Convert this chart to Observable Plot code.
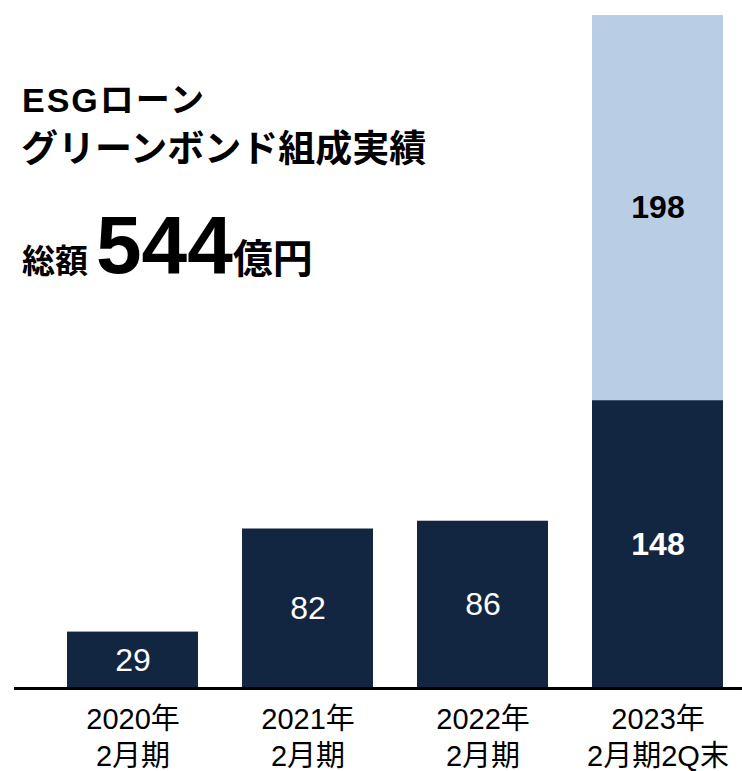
<!DOCTYPE html>
<html>
<head>
<meta charset="utf-8">
<script src="https://cdn.jsdelivr.net/npm/d3@7"></script>
<script src="https://cdn.jsdelivr.net/npm/@observablehq/plot@0.6"></script>
<style>
  body { margin: 0; background: #fff; }
  #chart { width: 742px; height: 771px; }
</style>
</head>
<body>
<div id="chart"></div>
<script>
// ---- data ----
const periods = ["2020年\n2月期", "2021年\n2月期", "2022年\n2月期", "2023年\n2月期2Q末"];
const loanValues = [29, 82, 86, 148];          // dark segment
const bondValues = [null, null, null, 198];    // light segment (2023 only)
const seriesNames = ["dark", "light"];
const titleLine1 = "ESGローン";
const titleLine2 = "グリーンボンド組成実績";
const totalPrefix = "総額";
const totalValue = "544";
const totalUnit = "億円";

const rows = [];
periods.forEach((p, i) => {
  rows.push({period: p, series: seriesNames[0], value: loanValues[i], idx: i});
  if (bondValues[i] != null) rows.push({period: p, series: seriesNames[1], value: bondValues[i], idx: i});
});
const maxTotal = d3.max(periods.map((p, i) => loanValues[i] + (bondValues[i] || 0)));
const lastIdx = periods.length - 1;

const FONT = "'Liberation Sans', Arial, 'Noto Sans CJK JP', sans-serif";

const chart = Plot.plot({
  width: 742,
  height: 771,
  marginTop: 15,
  marginBottom: 83,
  marginLeft: 14,
  marginRight: 0,
  style: {fontFamily: FONT, color: "#000", background: "#fff", overflow: "visible"},
  x: {domain: periods, range: [45, 745], paddingInner: 0.25, paddingOuter: 0.125, label: null},
  y: {domain: [0, maxTotal], axis: null},
  color: {domain: seriesNames, range: ["#132641", "#b9cde5"]},
  marks: [
    Plot.barY(rows, Plot.stackY({x: "period", y: "value", fill: "series", order: seriesNames})),
    Plot.text(rows.filter(d => d.idx !== lastIdx), Plot.stackY({
      x: "period", y: "value", z: "series", order: seriesNames, text: d => String(d.value),
      fill: "white", fontSize: 32, fontWeight: "normal"
    })),
    Plot.text(rows.filter(d => d.idx === lastIdx), Plot.stackY({
      x: "period", y: "value", z: "series", order: seriesNames, text: d => String(d.value),
      fill: d => d.series === "light" ? "#000" : "#fff", fontSize: 32, fontWeight: "bold"
    })),
    Plot.ruleY([0], {stroke: "#000", strokeWidth: 3}),
    Plot.axisX({tickSize: 0, tickPadding: 15, fontSize: 29, lineHeight: 1.26, label: null, fill: "#000"})
  ]
});

document.getElementById("chart").appendChild(chart);

// ---- title block (real text) ----
const svg = d3.select(chart);
const g = svg.append("g")
  .attr("font-family", FONT).attr("font-weight", "bold").attr("fill", "#000")
  .attr("text-anchor", "start");
g.append("text").attr("x", 22).attr("y", 112).attr("font-size", 34)
  .attr("letter-spacing", 2).text(titleLine1);
g.append("text").attr("x", 21).attr("y", 162).attr("font-size", 37).text(titleLine2);
const t3 = g.append("text").attr("x", 22).attr("y", 273);
t3.append("tspan").attr("font-size", 33).text(totalPrefix);
t3.append("tspan").attr("font-size", 82).attr("dx", 8).text(totalValue);
t3.append("tspan").attr("font-size", 40).text(totalUnit);
</script>
</body>
</html>
